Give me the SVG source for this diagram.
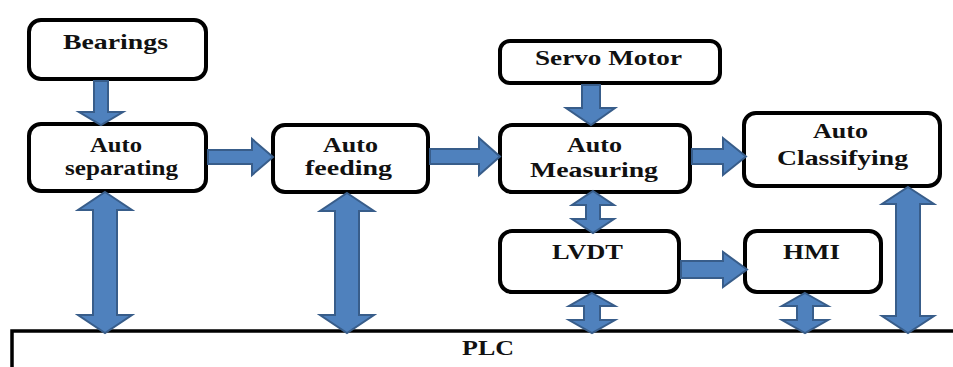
<svg xmlns="http://www.w3.org/2000/svg" width="953" height="367" viewBox="0 0 953 367">
  <style>
    .box { fill: #ffffff; stroke: #000000; stroke-width: 4; }
    .lbl { font-weight: 700; font-size: 21px; fill: #111111; text-anchor: middle; }
    .arr { fill: #4F81BD; stroke: #385D8A; stroke-width: 2; stroke-linejoin: miter; }
    .bus { fill: none; stroke: #000000; stroke-width: 3.5; }
  </style>
  <rect width="953" height="367" fill="#ffffff"/>

  <g font-family="Liberation Serif, Times New Roman, DejaVu Serif, serif">
  <!-- PLC bus along the bottom -->
  <g id="plc">
    <path class="bus" d="M12 370 V331 H960"/>
    <text class="lbl" x="488" y="355" textLength="52" lengthAdjust="spacingAndGlyphs">PLC</text>
  </g>

  <g id="bearings">
    <rect class="box" x="29" y="20" width="177" height="59" rx="12"/>
    <text class="lbl" x="115.5" y="49" textLength="105" lengthAdjust="spacingAndGlyphs">Bearings</text>
  </g>

  <g id="auto-separating">
    <rect class="box" x="29" y="124" width="177" height="67" rx="12"/>
    <text class="lbl" x="116" y="152" textLength="52" lengthAdjust="spacingAndGlyphs">Auto</text>
    <text class="lbl" x="121.5" y="175" textLength="113" lengthAdjust="spacingAndGlyphs">separating</text>
  </g>

  <g id="auto-feeding">
    <rect class="box" x="273" y="125" width="155" height="67" rx="12"/>
    <text class="lbl" x="350.5" y="152" textLength="55" lengthAdjust="spacingAndGlyphs">Auto</text>
    <text class="lbl" x="348.5" y="175" textLength="87" lengthAdjust="spacingAndGlyphs">feeding</text>
  </g>

  <g id="servo-motor">
    <rect class="box" x="500" y="41" width="220" height="42" rx="10"/>
    <text class="lbl" x="608.5" y="65" textLength="147" lengthAdjust="spacingAndGlyphs">Servo Motor</text>
  </g>

  <g id="auto-measuring">
    <rect class="box" x="500" y="125" width="190" height="67" rx="12"/>
    <text class="lbl" x="594.5" y="152" textLength="55" lengthAdjust="spacingAndGlyphs">Auto</text>
    <text class="lbl" x="594" y="177" textLength="128" lengthAdjust="spacingAndGlyphs">Measuring</text>
  </g>

  <g id="auto-classifying">
    <rect class="box" x="744" y="113" width="196" height="73" rx="12"/>
    <text class="lbl" x="840.5" y="138" textLength="55" lengthAdjust="spacingAndGlyphs">Auto</text>
    <text class="lbl" x="842.5" y="165" textLength="131" lengthAdjust="spacingAndGlyphs">Classifying</text>
  </g>

  <g id="lvdt">
    <rect class="box" x="500" y="231" width="179" height="61" rx="12"/>
    <text class="lbl" x="587.5" y="259" textLength="71" lengthAdjust="spacingAndGlyphs">LVDT</text>
  </g>

  <g id="hmi">
    <rect class="box" x="745" y="231" width="136" height="61" rx="12"/>
    <text class="lbl" x="811.5" y="259" textLength="57" lengthAdjust="spacingAndGlyphs">HMI</text>
  </g>
  </g>

  <!-- block arrows -->
  <g id="connectors">
    <!-- Bearings -> Auto separating -->
    <polygon class="arr" points="94,81 108,81 108,112 123,112 101,125 79,112 94,112"/>
    <!-- Auto separating -> Auto feeding -->
    <polygon class="arr" points="208,150 252,150 252,139 273,157 252,175 252,164 208,164"/>
    <!-- Auto feeding -> Auto measuring -->
    <polygon class="arr" points="430,149 479,149 479,138 500,156.5 479,175 479,164 430,164"/>
    <!-- Servo Motor -> Auto measuring -->
    <polygon class="arr" points="582,85 600,85 600,108 615,108 591,125 566,108 582,108"/>
    <!-- Auto measuring -> Auto classifying -->
    <polygon class="arr" points="692,149 723,149 723,138 746,156.5 723,175 723,164 692,164"/>
    <!-- LVDT -> HMI -->
    <polygon class="arr" points="681,261 723,261 723,252 747,269.5 723,287 723,278 681,278"/>

    <!-- two-way links -->
    <polygon class="arr" points="105,192 132,210 117,210 117,315 132,315 105,333 78,315 93,315 93,210 78,210"/>
    <polygon class="arr" points="347,193 374,211 359,211 359,315 374,315 347,333 320,315 335,315 335,211 320,211"/>
    <polygon class="arr" points="593,191 614,205 600,205 600,219 614,219 593,233 572,219 586,219 586,205 572,205"/>
    <polygon class="arr" points="592,293 615,306 600,306 600,320 615,320 592,333 569,320 584,320 584,306 569,306"/>
    <polygon class="arr" points="805,293 828,306 813,306 813,320 828,320 805,333 782,320 797,320 797,306 782,306"/>
    <polygon class="arr" points="908,187 934,204 920,204 920,316 934,316 908,333 882,316 896,316 896,204 882,204"/>
  </g>
</svg>
